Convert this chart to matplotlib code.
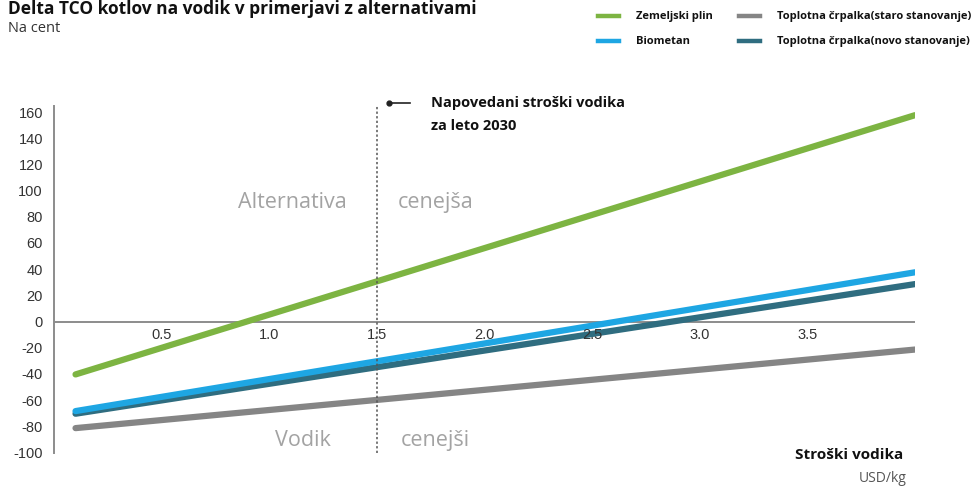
import matplotlib
matplotlib.use("Agg")
import matplotlib.pyplot as plt

# Data
x_vals = [0.1, 4.0]
series_names = ["Zemeljski plin", "Biometan",
                "Toplotna črpalka(staro stanovanje)", "Toplotna črpalka(novo stanovanje)"]
zemeljski_plin = [-40, 158]
biometan = [-68, 38]
tc_staro = [-81, -21]
tc_novo = [-70, 29]
colors = {"Zemeljski plin": "#7db442", "Biometan": "#1ea6e3",
          "Toplotna črpalka(staro stanovanje)": "#858585",
          "Toplotna črpalka(novo stanovanje)": "#2f6d80"}
x_ticks = [0.5, 1.0, 1.5, 2.0, 2.5, 3.0, 3.5]
x_ticklabels = ["0.5", "1.0", "1.5", "2.0", "2.5", "3.0", "3.5"]
y_ticks = list(range(-100, 161, 20))
marker_x = 1.5

W, H = 979, 489
fig = plt.figure(figsize=(W / 100, H / 100), dpi=100)

def fx(px):
    return px / W

def fy(py):
    return 1 - py / H

ax = fig.add_axes([fx(54), fy(454), fx(915) - fx(54), fy(107) - fy(454)])
ax.set_xlim(0, 4.0)
ax.set_ylim(-100, 165)

lw = 4.5
ax.plot(x_vals, tc_staro, color=colors[series_names[2]], lw=lw, solid_capstyle="round", zorder=3)
ax.plot(x_vals, tc_novo, color=colors[series_names[3]], lw=lw, solid_capstyle="round", zorder=3)
ax.plot(x_vals, biometan, color=colors[series_names[1]], lw=lw, solid_capstyle="round", zorder=4)
ax.plot(x_vals, zemeljski_plin, color=colors[series_names[0]], lw=lw, solid_capstyle="round", zorder=4)

ax.axhline(0, color="#8c8c8c", lw=1.4, zorder=2)
ax.axvline(marker_x, color="#555555", lw=1.1, ls=(0, (1.5, 1.5)), zorder=5)

for s in ["top", "right", "bottom"]:
    ax.spines[s].set_visible(False)
ax.spines["left"].set_color("#8c8c8c")
ax.spines["left"].set_linewidth(1.4)

ax.set_xticks(x_ticks)
ax.set_xticklabels([])
for xt, lab in zip(x_ticks, x_ticklabels):
    ax.text(xt, -4, lab, ha="center", va="top", fontsize=10.5, color="#333333",
            family="Liberation Sans", zorder=6)
ax.set_yticks(y_ticks)
ax.set_yticklabels([str(v) for v in y_ticks], fontsize=10.5, color="#333333",
                   family="Liberation Sans", va="top")
ax.tick_params(axis="both", length=0, pad=8)
ax.tick_params(axis="x", labelbottom=False)
for lab in ax.get_yticklabels():
    lab.set_verticalalignment("center")

# Region labels
gray_txt = "#a3a3a3"
fig.text(fx(292), fy(203), "Alternativa", ha="center", va="center", fontsize=15.5,
         color=gray_txt, family="Open Sans")
fig.text(fx(436), fy(203), "cenejša", ha="center", va="center", fontsize=15.5,
         color=gray_txt, family="Open Sans")
fig.text(fx(303), fy(441), "Vodik", ha="center", va="center", fontsize=15.5,
         color=gray_txt, family="Open Sans")
fig.text(fx(435), fy(441), "cenejši", ha="center", va="center", fontsize=15.5,
         color=gray_txt, family="Open Sans")

# Annotation
fig.add_artist(plt.Line2D([fx(389), fx(410)], [fy(104), fy(104)], color="#222222", lw=1.2))
fig.add_artist(plt.Line2D([fx(389)], [fy(104)], marker="o", ms=3.5, color="#222222"))
fig.text(fx(431), fy(103), "Napovedani stroški vodika", ha="left", va="center",
         fontsize=10.5, fontweight="bold", color="#111111", family="Open Sans")
fig.text(fx(431), fy(126), "za leto 2030", ha="left", va="center",
         fontsize=10.5, fontweight="bold", color="#111111", family="Open Sans")

# Axis labels
fig.text(fx(903), fy(455), "Stroški vodika", ha="right", va="center", fontsize=11,
         fontweight="bold", color="#111111", family="Open Sans")
fig.text(fx(907), fy(479), "USD/kg", ha="right", va="center", fontsize=10,
         color="#555555", family="Open Sans")

# Title
fig.text(fx(8), fy(9), "Delta TCO kotlov na vodik v primerjavi z alternativami", ha="left",
         va="center", fontsize=12.5, fontweight="bold", color="#111111", family="Open Sans")
fig.text(fx(8), fy(28), "Na cent", ha="left", va="center", fontsize=10.5,
         color="#333333", family="Open Sans")

# Legend
leg_items = [(598, 17, series_names[0]), (598, 42, series_names[1]),
             (739, 17, series_names[2]), (739, 42, series_names[3])]
for px, py, name in leg_items:
    fig.add_artist(plt.Line2D([fx(px), fx(px + 21)], [fy(py), fy(py)],
                              color=colors[name], lw=3.2))
    fig.text(fx(px + 38), fy(py), name, ha="left", va="center", fontsize=8,
             fontweight="bold", color="#111111", family="Open Sans")

fig.savefig("out.png", dpi=100)
